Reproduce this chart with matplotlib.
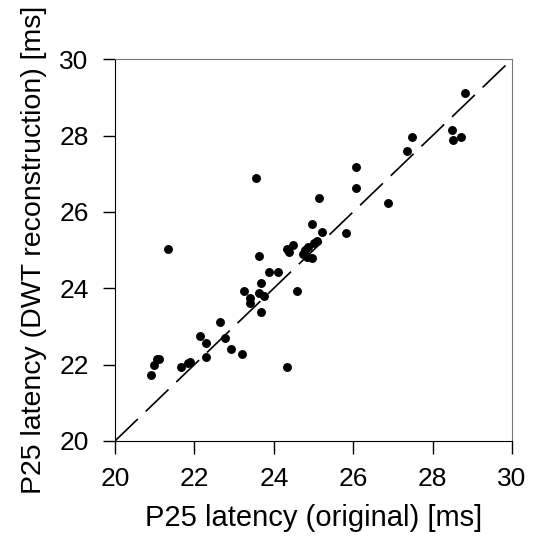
import numpy as np
import matplotlib
matplotlib.use('Agg')
import matplotlib.pyplot as plt

plt.rcParams['font.family'] = ['Liberation Sans', 'DejaVu Sans']

# P25 latency: original vs DWT reconstruction [ms]
orig = [20.91, 20.98, 21.05, 21.12, 21.33, 21.66, 21.85, 21.89, 22.14, 22.29,
        22.29, 22.64, 22.78, 22.92, 23.20, 23.26, 23.40, 23.40, 23.55, 23.62,
        23.68, 23.62, 23.75, 23.68, 23.89, 24.10, 24.32, 24.59, 24.32, 24.37,
        24.49, 24.97, 25.21, 25.08, 25.00, 24.87, 24.79, 24.74, 24.83, 24.95,
        25.13, 25.82, 26.08, 26.08, 26.87, 27.36, 27.49, 28.49, 28.52, 28.71,
        28.82]
recon = [21.73, 21.99, 22.14, 22.14, 25.03, 21.93, 22.03, 22.08, 22.76, 22.56,
         22.21, 23.12, 22.69, 22.41, 22.28, 23.93, 23.74, 23.60, 26.88, 24.84,
         24.14, 23.87, 23.80, 23.38, 24.42, 24.42, 21.93, 23.93, 25.04, 24.95,
         25.13, 25.67, 25.48, 25.24, 25.18, 25.09, 25.00, 24.89, 24.82, 24.79,
         26.37, 25.45, 27.17, 26.63, 26.22, 27.60, 27.95, 28.15, 27.88, 27.95,
         29.12]

fig = plt.figure(figsize=(5.35, 5.43), dpi=100)
ax = fig.add_axes([0.215, 0.188, 0.742, 0.703])

ax.plot([20, 30], [20, 30], '--', color='black', lw=1.2, dashes=(19, 6.5))
ax.plot(orig, recon, 'o', color='black', markersize=5.4, mec='black')

ax.set_xlim(20, 30)
ax.set_ylim(20, 30)
ax.set_xticks(np.arange(20, 31, 2))
ax.set_yticks(np.arange(20, 31, 2))
ax.tick_params(direction='out', length=9, width=1, pad=10, labelsize=19, colors='black')
ax.tick_params(axis='x', pad=10)
ax.set_xlabel('P25 latency (original) [ms]', size=21, labelpad=9)
ax.set_ylabel('P25 latency (DWT reconstruction) [ms]', size=20.5, labelpad=9)

for s in ['top', 'right']:
    ax.spines[s].set_color('#777777')
for s in ['left', 'bottom']:
    ax.spines[s].set_color('black')

plt.savefig('out.png', dpi=100)
